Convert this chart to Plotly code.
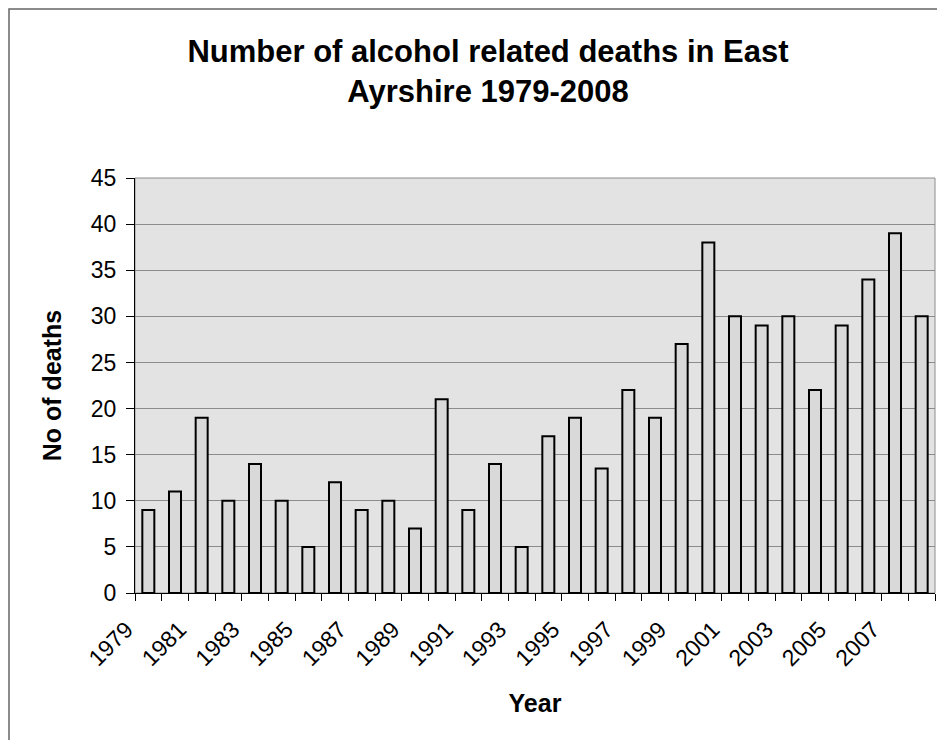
import plotly.graph_objects as go

years = list(range(1979, 2009))
deaths = [9, 11, 19, 10, 14, 10, 5, 12, 9, 10, 7, 21, 9, 14, 5,
          17, 19, 13.5, 22, 19, 27, 38, 30, 29, 30, 22, 29, 34, 39, 30]
label_years = years[::2]
y_ticks = list(range(0, 50, 5))

title_text = "Number of alcohol related deaths in East<br>Ayrshire 1979-2008"
x_title = "Year"
y_title = "No of deaths"

FONT = "Liberation Sans, Arial, sans-serif"

boundaries = [y - 0.5 for y in years] + [years[-1] + 0.5]

fig = go.Figure()
fig.add_trace(go.Bar(
    x=years, y=deaths, width=0.45,
    marker=dict(color="#d9d9d9", line=dict(color="black", width=2)),
    showlegend=False,
))

# page body has an 8px margin: compensate
OFF = 8
W, H = 945 - 2 * OFF, 748 - 2 * OFF
L, T = 135 - OFF, 178 - OFF
pw, ph = 800, 415
R, B = W - L - pw, H - T - ph

fig.update_layout(
    width=W, height=H,
    margin=dict(l=L, r=R, t=T, b=B, autoexpand=False),
    paper_bgcolor="white",
    plot_bgcolor="#e3e3e3",
    font=dict(family=FONT, color="black"),
    title=dict(text="<b>" + title_text + "</b>", x=480 / W, xanchor="center",
               xref="container", y=1 - 54 / H, yanchor="top", yref="container",
               font=dict(size=31, family=FONT, color="black")),
    xaxis=dict(
        range=[years[0] - 0.5, years[-1] + 0.5],
        tickmode="array", tickvals=label_years, ticktext=[str(v) for v in label_years],
        ticks="", tickangle=-45, tickfont=dict(size=23),
        ticklabelstandoff=13, ticklabelshift=-22,
        showgrid=False, zeroline=False,
        showline=True, linecolor="black", linewidth=1,
        minor=dict(tickmode="array", tickvals=boundaries, ticks="outside",
                   ticklen=7, tickcolor="black", tickwidth=1, showgrid=False),
        title=dict(text="<b>" + x_title + "</b>", font=dict(size=25), standoff=24),
    ),
    yaxis=dict(
        range=[0, 45], tickmode="array", tickvals=y_ticks,
        ticks="outside", ticklen=8, tickcolor="black", tickfont=dict(size=23),
        ticklabelstandoff=5,
        showgrid=True, gridcolor="#8c8c8c", gridwidth=1,
        zeroline=False, showline=True, linecolor="black", linewidth=1,
        title=dict(text="<b>" + y_title + "</b>", font=dict(size=25), standoff=22),
    ),
    bargap=0.55,
)

# plot-area border (top/right grey)
fig.add_shape(type="rect", xref="paper", yref="paper", x0=0, x1=1, y0=0, y1=1,
              line=dict(color="#8c8c8c", width=1), layer="below")
# page frame (left and top edges of the scanned chart)
fig.add_shape(type="rect", xref="paper", yref="paper",
              x0=(1 - L) / pw, x1=(W + 30 - L) / pw,
              y0=-(B + 30) / ph, y1=1 + (T - 1) / ph,
              line=dict(color="#666666", width=1.5))

fig.write_html("out.html")
